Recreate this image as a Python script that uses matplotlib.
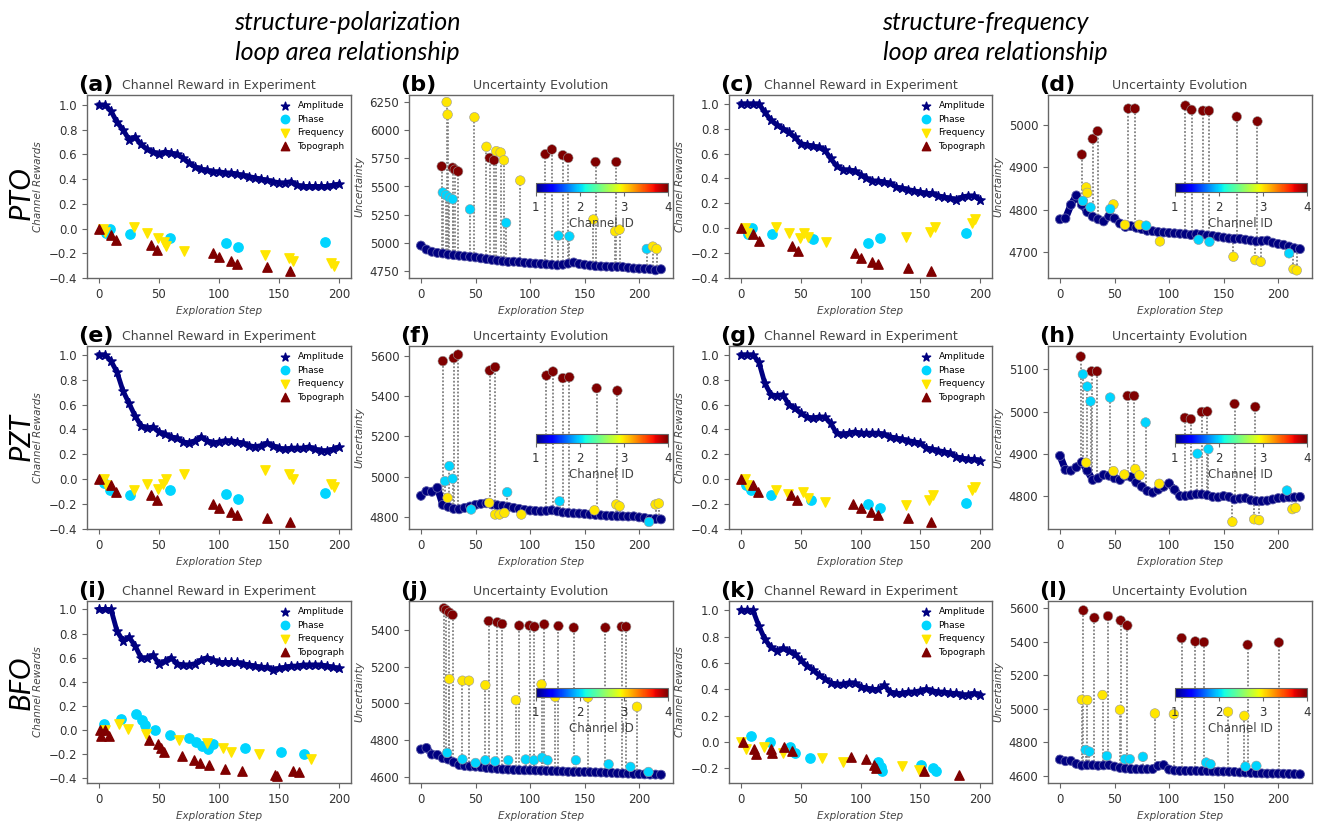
import numpy as np
import matplotlib
matplotlib.use('Agg')
import matplotlib.pyplot as plt
from matplotlib import cm, colors

plt.rcParams.update({'font.size': 8.5,
                     'axes.edgecolor': '#666666',
                     'xtick.color': '#666666', 'ytick.color': '#666666',
                     'xtick.labelcolor': '#333333', 'ytick.labelcolor': '#333333',
                     'axes.labelcolor': '#444444'})

# ---------------- data ----------------
amp_steps = list(range(0, 201, 5))
unc_steps = list(range(0, 221, 5))

# reward panels (Amplitude sampled every 5 steps; others as (step, reward))
a_amp = [1.0, 1.0, 0.95, 0.86, 0.80, 0.72, 0.74, 0.68, 0.64, 0.62, 0.60, 0.62, 0.61, 0.60, 0.57,
         0.53, 0.50, 0.48, 0.47, 0.46, 0.46, 0.45, 0.45, 0.44, 0.43, 0.42, 0.41, 0.40, 0.39, 0.38,
         0.37, 0.37, 0.38, 0.35, 0.34, 0.34, 0.34, 0.34, 0.34, 0.35, 0.36]
a_phase = [(9, 0.0), (5.5, -0.04), (26, -0.045), (59, -0.08), (106, -0.12), (116, -0.15), (188, -0.11)]
a_freq = [(3, 0.0), (5, -0.03), (29, 0.01), (40, -0.04), (49, -0.08), (54, -0.11), (56, -0.14),
          (71, -0.18), (138, -0.21), (158, -0.24), (162, -0.26), (193, -0.28), (196, -0.30)]
a_topo = [(0, 0.0), (10, -0.05), (14, -0.09), (43, -0.13), (48, -0.17), (95, -0.20), (100, -0.23),
          (110, -0.26), (115, -0.29), (140, -0.31), (159, -0.34)]

c_amp = [1, 1, 1, 1, 0.93, 0.87, 0.83, 0.80, 0.77, 0.73, 0.68, 0.67, 0.66, 0.65, 0.63, 0.56, 0.50,
         0.47, 0.47, 0.46, 0.43, 0.40, 0.38, 0.38, 0.37, 0.36, 0.33, 0.32, 0.31, 0.30, 0.29, 0.28,
         0.28, 0.26, 0.25, 0.24, 0.23, 0.25, 0.26, 0.26, 0.23]
c_phase = [(9, 0.0), (5.5, -0.05), (26, -0.045), (60, -0.09), (106, -0.12), (116, -0.08), (188, -0.04)]
c_freq = [(3.5, 0.0), (5, -0.04), (29, 0.01), (40, -0.04), (49, -0.08), (53, -0.04), (56, -0.07),
          (71, -0.11), (138, -0.07), (158, -0.03), (162, 0.01), (193, 0.04), (196, 0.07)]
c_topo = [(0, 0.0), (10, -0.05), (15, -0.10), (43, -0.14), (48, -0.18), (95, -0.20), (100, -0.24),
          (110, -0.27), (115, -0.29), (140, -0.32), (159, -0.34)]

e_amp = [1, 1, 0.95, 0.86, 0.71, 0.61, 0.51, 0.43, 0.41, 0.42, 0.38, 0.36, 0.34, 0.33, 0.30, 0.29,
         0.31, 0.34, 0.31, 0.29, 0.30, 0.31, 0.31, 0.30, 0.29, 0.27, 0.26, 0.27, 0.29, 0.27, 0.25,
         0.24, 0.25, 0.25, 0.25, 0.26, 0.24, 0.23, 0.23, 0.24, 0.26]
e_phase = [(4, -0.03), (9, -0.09), (26, -0.13), (59, -0.09), (106, -0.12), (116, -0.16), (188, -0.11)]
e_freq = [(4, 0.0), (6, -0.05), (29, -0.09), (40, -0.04), (49, -0.08), (53, -0.04), (56, 0.0),
          (71, 0.04), (138, 0.07), (158, 0.04), (162, 0.0), (193, -0.04), (196, -0.06)]
e_topo = [(0, 0.0), (10, -0.05), (14, -0.10), (43, -0.13), (48, -0.17), (95, -0.20), (100, -0.23),
          (110, -0.26), (115, -0.29), (140, -0.31), (159, -0.34)]

g_amp = [1, 1, 1, 0.94, 0.77, 0.68, 0.67, 0.68, 0.60, 0.57, 0.53, 0.50, 0.49, 0.50, 0.50, 0.45,
         0.37, 0.36, 0.37, 0.38, 0.37, 0.37, 0.37, 0.37, 0.36, 0.34, 0.33, 0.32, 0.31, 0.30, 0.29,
         0.25, 0.24, 0.23, 0.22, 0.21, 0.18, 0.17, 0.16, 0.16, 0.15]
g_phase = [(4, -0.05), (8, -0.09), (25, -0.13), (59, -0.17), (106, -0.20), (116, -0.23), (188, -0.19)]
g_freq = [(3.5, 0.0), (5, -0.05), (29, -0.09), (39, -0.12), (52, -0.10), (56, -0.15), (70, -0.18),
          (138, -0.21), (157, -0.17), (161, -0.13), (193, -0.09), (196, -0.06)]
g_topo = [(0, 0.0), (10, -0.05), (14, -0.10), (42, -0.13), (47, -0.17), (94, -0.20), (100, -0.23),
          (109, -0.26), (115, -0.29), (140, -0.31), (159, -0.34)]

i_amp = [1, 1, 1, 0.82, 0.74, 0.77, 0.70, 0.60, 0.60, 0.62, 0.55, 0.57, 0.60, 0.55, 0.54, 0.54,
         0.55, 0.58, 0.60, 0.58, 0.56, 0.56, 0.56, 0.56, 0.55, 0.54, 0.53, 0.52, 0.52, 0.50, 0.51,
         0.52, 0.53, 0.53, 0.54, 0.54, 0.54, 0.54, 0.53, 0.52, 0.51]
i_phase = [(4, 0.05), (18, 0.09), (31, 0.13), (36, 0.08), (38, 0.04), (47, 0.0), (59, -0.04),
           (75, -0.07), (81, -0.10), (86, -0.13), (91, -0.16), (95, -0.12), (122, -0.15),
           (152, -0.18), (171, -0.20)]
i_freq = [(5, 0.0), (17, 0.05), (24, 0.01), (39, -0.03), (67, -0.08), (90, -0.11), (103, -0.15),
          (110, -0.18), (133, -0.20), (177, -0.24)]
i_topo = [(1, 0.0), (2, -0.05), (5, 0.0), (8, -0.05), (42, -0.08), (49, -0.12), (52, -0.15),
          (54, -0.18), (69, -0.22), (79, -0.25), (84, -0.27), (92, -0.29), (105, -0.32),
          (119, -0.34), (147, -0.37), (148, -0.38), (162, -0.34), (167, -0.35)]

k_amp = [1, 1, 1, 0.88, 0.78, 0.72, 0.69, 0.71, 0.69, 0.67, 0.62, 0.58, 0.55, 0.51, 0.48, 0.45,
         0.44, 0.44, 0.45, 0.45, 0.42, 0.41, 0.40, 0.40, 0.43, 0.38, 0.37, 0.37, 0.38, 0.38, 0.39,
         0.40, 0.39, 0.38, 0.38, 0.37, 0.37, 0.36, 0.36, 0.37, 0.36]
k_phase = [(8, 0.05), (24, 0.0), (41, -0.04), (45, -0.08), (58, -0.12), (115, -0.15), (117, -0.19),
           (118, -0.22), (151, -0.17), (161, -0.20), (163, -0.22)]
k_freq = [(0, 0.0), (4, -0.05), (19, -0.04), (35, -0.08), (68, -0.12), (85, -0.15), (135, -0.18),
          (149, -0.21)]
k_topo = [(2, 0.0), (11, -0.05), (13, -0.09), (25, -0.05), (26, -0.08), (36, -0.04), (43, -0.07),
          (92, -0.11), (105, -0.13), (111, -0.17), (113, -0.20), (153, -0.22), (182, -0.25)]

# uncertainty panels: base curve every 5 steps, then selected points (step, value, channel id)
b_base = [4975, 4940, 4920, 4910, 4905, 4895, 4890, 4885, 4880, 4875, 4870, 4862, 4855, 4848, 4842,
          4835, 4830, 4832, 4828, 4822, 4818, 4815, 4812, 4808, 4805, 4800, 4805, 4815, 4825, 4812,
          4805, 4798, 4792, 4790, 4788, 4786, 4786, 4784, 4778, 4772, 4770, 4768, 4765, 4755, 4765]
b_sx = [23.5, 24.4, 49, 60, 63, 67, 69, 73, 76, 19, 29, 31, 34, 20, 23, 26, 29, 45, 78, 91, 114, 120,
        130, 135, 126, 136, 160, 158, 179, 178, 182, 207, 212.5, 216]
b_sy = [6250, 6139, 6115, 5853, 5754, 5733, 5814, 5802, 5733, 5679, 5667, 5649, 5634, 5447, 5423,
        5402, 5387, 5297, 5177, 5553, 5787, 5829, 5778, 5754, 5063, 5057, 5718, 5207, 5718, 5102,
        5117, 4945, 4966, 4945]
b_sc = [3, 3, 3, 3, 4, 4, 3, 3, 3, 4, 4, 4, 4, 2, 2, 2, 2, 2, 2, 3, 4, 4, 4, 4, 2, 2, 4, 3, 4, 3,
        3, 2, 3, 3]

d_base = [4778, 4780, 4812, 4834, 4812, 4795, 4784, 4778, 4773, 4785, 4780, 4768, 4760, 4762, 4758,
          4755, 4751, 4750, 4748, 4747, 4746, 4745, 4744, 4743, 4741, 4743, 4742, 4740, 4739, 4737,
          4735, 4733, 4732, 4732, 4730, 4728, 4726, 4727, 4728, 4723, 4720, 4718, 4714, 4710, 4708]
d_sx = [20, 30, 34.5, 62.6, 68.7, 115, 120.6, 131, 136.5, 162, 181,
        24, 25, 49, 59.5, 72.7, 91.6, 159, 179, 184, 214, 217,
        21, 28, 46, 79, 127, 137, 210]
d_sy = [4930, 4967, 4985, 5038, 5038, 5045, 5035, 5033, 5033, 5019, 5008,
        4853, 4840, 4813, 4765, 4765, 4726, 4690, 4682, 4678, 4661, 4658,
        4821, 4806, 4802, 4763, 4730, 4725, 4698]
d_sc = [4, 4, 4, 4, 4, 4, 4, 4, 4, 4, 4,
        3, 3, 3, 3, 3, 3, 3, 3, 3, 3, 3,
        2, 2, 2, 2, 2, 2, 2]

f_base = [4905, 4928, 4925, 4945, 4860, 4850, 4840, 4838, 4845, 4852, 4860, 4865, 4868, 4862, 4858,
          4855, 4850, 4845, 4840, 4835, 4832, 4830, 4828, 4830, 4833, 4828, 4822, 4820, 4818, 4817,
          4815, 4812, 4810, 4808, 4806, 4805, 4803, 4803, 4802, 4803, 4798, 4795, 4790, 4790, 4788]
f_sx = [20, 30, 34, 63, 68, 115, 121, 130, 136, 161, 180,
        22, 26, 29, 79, 127, 46, 209,
        24.4, 62.5, 68, 72, 76.5, 92, 159, 179, 182, 215, 218]
f_sy = [5575, 5590, 5607, 5528, 5545, 5503, 5523, 5490, 5495, 5440, 5428,
        4978, 5053, 4990, 4923, 4878, 4837, 4775,
        4895, 4870, 4812, 4812, 4820, 4812, 4833, 4862, 4853, 4862, 4867]
f_sc = [4, 4, 4, 4, 4, 4, 4, 4, 4, 4, 4,
        2, 2, 2, 2, 2, 2, 2,
        3, 3, 3, 3, 3, 3, 3, 3, 3, 3, 3]

h_base = [4895, 4862, 4860, 4868, 4880, 4860, 4838, 4842, 4850, 4848, 4842, 4838, 4848, 4845, 4832,
          4822, 4812, 4808, 4815, 4822, 4830, 4815, 4800, 4800, 4802, 4804, 4804, 4802, 4798, 4797,
          4800, 4798, 4792, 4794, 4795, 4790, 4788, 4788, 4789, 4792, 4795, 4796, 4797, 4797, 4798]
h_sx = [19, 29, 34, 62, 68, 114.5, 120, 130, 135, 160, 179,
        21, 25, 28, 46, 78.5, 126, 136, 208,
        24, 49, 59, 69, 73, 91, 158, 178, 182.5, 213, 216]
h_sy = [5130, 5095, 5095, 5037, 5037, 4985, 4982, 4999, 5000, 5018, 5011,
        5088, 5059, 5024, 5033, 4974, 4900, 4911, 4813,
        4879, 4859, 4851, 4864, 4849, 4829, 4739, 4745, 4743, 4769, 4772]
h_sc = [4, 4, 4, 4, 4, 4, 4, 4, 4, 4, 4,
        2, 2, 2, 2, 2, 2, 2, 2,
        3, 3, 3, 3, 3, 3, 3, 3, 3, 3, 3]

j_base = [4750, 4758, 4722, 4720, 4702, 4695, 4680, 4665, 4660, 4657, 4656, 4653, 4649, 4646, 4644,
          4641, 4640, 4638, 4637, 4636, 4636, 4635, 4634, 4633, 4632, 4631, 4630, 4628, 4627, 4627,
          4627, 4626, 4625, 4624, 4623, 4622, 4620, 4619, 4618, 4616, 4615, 4614, 4613, 4613, 4612]
j_sx = [21, 23, 26, 29, 62, 70, 74.4, 90, 99.5, 104, 113, 126, 140, 169, 184, 188,
        26, 38, 44, 59, 87, 110.5, 123, 153, 198,
        24, 38, 50, 59, 68, 80, 96, 103.5, 111, 116, 142, 172, 192, 208.5]
j_sy = [5518, 5509, 5495, 5482, 5449, 5442, 5433, 5424, 5424, 5418, 5431, 5422, 5413, 5413, 5418, 5418,
        5133, 5124, 5124, 5100, 5018, 5104, 5036, 5033, 4982,
        4731, 4696, 4676, 4691, 4685, 4691, 4695, 4691, 4705, 4691, 4691, 4669, 4655, 4627]
j_sc = [4, 4, 4, 4, 4, 4, 4, 4, 4, 4, 4, 4, 4, 4, 4, 4,
        3, 3, 3, 3, 3, 3, 3, 3, 3,
        2, 2, 2, 2, 2, 2, 2, 2, 2, 2, 2, 2, 2, 2]

l_base = [4698, 4688, 4690, 4672, 4662, 4664, 4664, 4661, 4663, 4665, 4656, 4648, 4644, 4641, 4640,
          4640, 4640, 4641, 4660, 4665, 4638, 4632, 4630, 4630, 4630, 4630, 4629, 4629, 4627, 4626,
          4626, 4625, 4624, 4621, 4620, 4618, 4616, 4615, 4614, 4614, 4614, 4613, 4612, 4611, 4610]
l_sx = [21.4, 31.5, 44, 55.6, 61.7, 111.5, 124, 132, 172, 200.6,
        20, 25, 39, 55, 87, 104.4, 154, 169,
        23.5, 27, 43, 59.5, 64, 76, 134, 138, 170, 180]
l_sy = [5586, 5542, 5552, 5526, 5496, 5421, 5401, 5397, 5381, 5395,
        5054, 5052, 5082, 4994, 4972, 4968, 4982, 4958,
        4755, 4745, 4719, 4700, 4700, 4714, 4680, 4670, 4656, 4660]
l_sc = [4, 4, 4, 4, 4, 4, 4, 4, 4, 4,
        3, 3, 3, 3, 3, 3, 3, 3,
        2, 2, 2, 2, 2, 2, 2, 2, 2, 2]

row_names = ['PTO', 'PZT', 'BFO']
reward_panels = {'a': (a_amp, a_phase, a_freq, a_topo, (-0.40, 1.08)),
                 'c': (c_amp, c_phase, c_freq, c_topo, (-0.40, 1.07)),
                 'e': (e_amp, e_phase, e_freq, e_topo, (-0.40, 1.07)),
                 'g': (g_amp, g_phase, g_freq, g_topo, (-0.40, 1.07)),
                 'i': (i_amp, i_phase, i_freq, i_topo, (-0.44, 1.07)),
                 'k': (k_amp, k_phase, k_freq, k_topo, (-0.31, 1.07))}
unc_panels = {'b': (b_base, b_sx, b_sy, b_sc, (4687, 6313)),
              'd': (d_base, d_sx, d_sy, d_sc, (4640, 5070)),
              'f': (f_base, f_sx, f_sy, f_sc, (4740, 5650)),
              'h': (h_base, h_sx, h_sy, h_sc, (4722, 5155)),
              'j': (j_base, j_sx, j_sy, j_sc, (4567, 5558)),
              'l': (l_base, l_sx, l_sy, l_sc, (4558, 5642))}

# ---------------- layout ----------------
W, H = 1319, 822
fig = plt.figure(figsize=(W / 100, H / 100), dpi=100)
cols = [(87, 351), (409, 673), (729, 992), (1048, 1312)]
rows = [(95, 278), (346, 529), (601, 783)]
order = [['a', 'b', 'c', 'd'], ['e', 'f', 'g', 'h'], ['i', 'j', 'k', 'l']]

cmap = plt.get_cmap('jet')
norm = colors.Normalize(vmin=1, vmax=4)
ch_col = {c: cmap(norm(c)) for c in [1, 2, 3, 4]}

for r, (top, bot) in enumerate(rows):
    for ci, (lft, rgt) in enumerate(cols):
        key = order[r][ci]
        ax = fig.add_axes([lft / W, 1 - bot / H, (rgt - lft) / W, (bot - top) / H])
        ax.tick_params(labelsize=8.5, length=3.5, width=0.8)
        for s in ax.spines.values():
            s.set_linewidth(1.0)
        if key in reward_panels:
            amp, ph, fr, tp, ylim = reward_panels[key]
            ax.plot(amp_steps, amp, color=ch_col[1], lw=3.5, zorder=2, solid_joinstyle='round')
            ax.scatter(amp_steps, amp, marker='*', s=48, color=ch_col[1], label='Amplitude', zorder=3)
            ax.scatter(*np.array(ph).T, marker='o', s=45, color=ch_col[2], label='Phase', zorder=3)
            ax.scatter(*np.array(fr).T, marker='v', s=45, color=ch_col[3], label='Frequency', zorder=3)
            ax.scatter(*np.array(tp).T, marker='^', s=45, color=ch_col[4], label='Topograph', zorder=3)
            ax.set_xlim(-10, 210)
            ax.set_yticks([-0.4, -0.2, 0.0, 0.2, 0.4, 0.6, 0.8, 1.0])
            ax.set_ylim(*ylim)
            ax.set_title('Channel Reward in Experiment', fontsize=9, color='#444444', pad=4)
            ax.set_ylabel('Channel Rewards', fontsize=7.5, style='italic')
            ax.legend(loc='upper right', frameon=False, fontsize=6.5, handletextpad=0.4,
                      borderaxespad=0.3, markerscale=0.9)
        else:
            base, sx, sy, sc, ylim = unc_panels[key]
            bottoms = np.interp(sx, unc_steps, base)
            ax.vlines(sx, bottoms, sy, colors='#808080', linestyles=(0, (1, 1)), linewidth=1.3, zorder=1)
            ax.plot(unc_steps, base, color=ch_col[1], lw=5, zorder=2, solid_joinstyle='round')
            ax.scatter(unc_steps, base, c=[1] * len(base), cmap=cmap, norm=norm, s=42,
                       edgecolors='#5a5aa8', linewidths=0.6, zorder=2)
            ax.scatter(sx, sy, c=sc, cmap=cmap, norm=norm, s=48, edgecolors='#999999',
                       linewidths=0.4, zorder=3)
            ax.set_xlim(-11, 231)
            ax.set_ylim(*ylim)
            ax.set_title('Uncertainty Evolution', fontsize=9, color='#444444', pad=4)
            ax.set_ylabel('Uncertainty', fontsize=7.5, style='italic')
            cax = ax.inset_axes([0.48, 0.47, 0.50, 0.05])
            sm = cm.ScalarMappable(norm=norm, cmap=cmap)
            cb = fig.colorbar(sm, cax=cax, orientation='horizontal', ticks=[1, 2, 3, 4])
            cb.ax.tick_params(labelsize=8.5, length=3)
            cb.set_label('Channel ID', fontsize=8.5, color='#444444', labelpad=2)
            cb.outline.set_linewidth(0.8)
        ax.set_xticks([0, 50, 100, 150, 200])
        ax.set_xlabel('Exploration Step', fontsize=7.5, style='italic')
        ax.text(-0.035, 1.0, '(%s)' % key, transform=ax.transAxes, ha='left', va='bottom',
                fontsize=16, fontweight='bold', color='black')

# row labels and column headers
for name, yc in zip(row_names, [193, 437, 683]):
    fig.text(22 / W, 1 - yc / H, name, rotation=90, ha='center', va='center', fontsize=21,
             family='Lato', style='italic')
hdr = dict(ha='center', va='center', fontsize=18, family='Lato', style='italic')
fig.text(347 / W, 1 - 22 / H, 'structure-polarization', **hdr)
fig.text(347 / W, 1 - 52 / H, 'loop area relationship', **hdr)
fig.text(985 / W, 1 - 22 / H, 'structure-frequency', **hdr)
fig.text(995 / W, 1 - 52 / H, 'loop area relationship', **hdr)

fig.savefig('out.png', dpi=100)
